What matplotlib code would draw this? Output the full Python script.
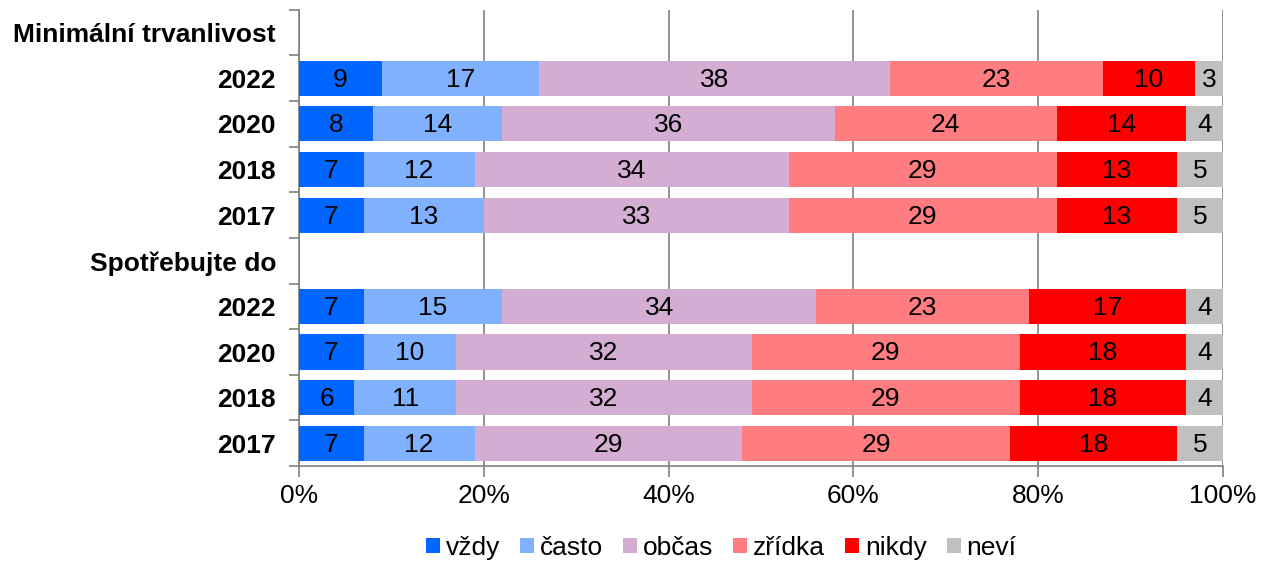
import numpy as np
import matplotlib.pyplot as plt
from matplotlib.ticker import FixedLocator, PercentFormatter

plt.rcParams['font.family'] = ['Liberation Sans', 'DejaVu Sans']

# Row labels from top to bottom (header rows have no bar)
row_labels = ['Minimální trvanlivost', '2022', '2020', '2018', '2017',
              'Spotřebujte do', '2022', '2020', '2018', '2017']
header_rows = [0, 5]

categories = ['vždy', 'často', 'občas', 'zřídka', 'nikdy', 'neví']
colors = ['#0066FF', '#80B1FF', '#D3AED2', '#FF7C80', '#FF0000', '#C0C0C0']

# values per bar row (same order as the year rows above)
vzdy   = [9, 8, 7, 7, 7, 7, 6, 7]
casto  = [17, 14, 12, 13, 15, 10, 11, 12]
obcas  = [38, 36, 34, 33, 34, 32, 32, 29]
zridka = [23, 24, 29, 29, 23, 29, 29, 29]
nikdy  = [10, 14, 13, 13, 17, 18, 18, 18]
nevi   = [3, 4, 5, 5, 4, 4, 4, 5]
series = [vzdy, casto, obcas, zridka, nikdy, nevi]

bar_rows = [i for i in range(len(row_labels)) if i not in header_rows]
y = np.array(bar_rows)
fs = 19

fig = plt.figure(figsize=(12.63, 5.67), dpi=100)
ax = fig.add_axes([0.2367, 0.178, 0.7316, 0.8046])

left = np.zeros(len(bar_rows))
for name, vals, col in zip(categories, series, colors):
    vals = np.array(vals, dtype=float)
    ax.barh(y, vals, left=left, height=0.77, color=col, label=name, zorder=3)
    for yy, l, v in zip(y, left, vals):
        ax.text(l + v / 2, yy + 0.03, f'{int(v)}', ha='center', va='center',
                fontsize=fs, color='black', zorder=4)
    left += vals

ax.set_xlim(0, 100)
ax.set_ylim(len(row_labels) - 0.5, -0.5)

ax.xaxis.set_major_locator(FixedLocator([0, 20, 40, 60, 80, 100]))
ax.xaxis.set_major_formatter(PercentFormatter(decimals=0))
ax.grid(axis='x', color='#808080', linewidth=1.2, zorder=0)

ax.set_yticks(range(len(row_labels)))
ax.set_yticklabels(row_labels, fontsize=fs, fontweight='bold')
ax.yaxis.set_minor_locator(FixedLocator(np.arange(-0.5, len(row_labels), 1)))
ax.tick_params(axis='y', which='major', length=0, pad=16.5)
ax.tick_params(axis='y', which='minor', length=7, color='#808080', width=1.2)
ax.tick_params(axis='x', length=8, color='#808080', width=1.2, labelsize=fs, pad=5)

for s in ['top', 'right']:
    ax.spines[s].set_visible(False)
for s in ['left', 'bottom']:
    ax.spines[s].set_color('#808080')
    ax.spines[s].set_linewidth(1.2)

fig.legend(loc='center', bbox_to_anchor=(0.571, 0.034), ncol=6, frameon=False,
           fontsize=fs, handlelength=0.53, handleheight=0.53, handletextpad=0.23,
           columnspacing=0.75)

fig.savefig('out.png', dpi=100)
